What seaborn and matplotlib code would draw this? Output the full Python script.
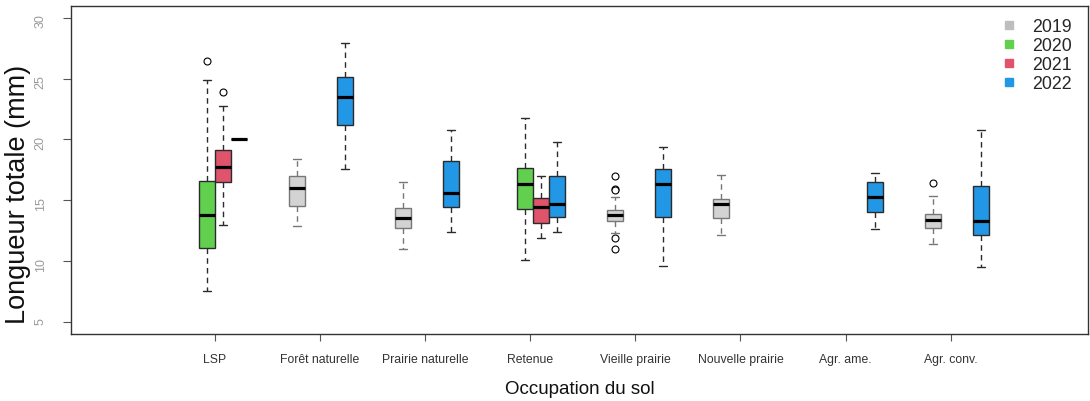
import numpy as np
import pandas as pd
import matplotlib.pyplot as plt
from matplotlib.lines import Line2D
import seaborn as sns

CATEGORIES = ["LSP", "Forêt naturelle", "Prairie naturelle", "Retenue",
              "Vieille prairie", "Nouvelle prairie", "Agr. ame.", "Agr. conv."]
YEARS = ["2019", "2020", "2021", "2022"]
YEAR_COLORS = {"2019": "#D3D3D3", "2020": "#61D04F", "2021": "#DF536B", "2022": "#2297E6"}
LEGEND_COLORS = ["#BEBEBE", "#61D04F", "#DF536B", "#2297E6"]

box_site = ["LSP", "LSP", "LSP", "Forêt naturelle", "Forêt naturelle",
            "Prairie naturelle", "Prairie naturelle", "Retenue", "Retenue", "Retenue",
            "Vieille prairie", "Vieille prairie", "Nouvelle prairie", "Agr. ame.",
            "Agr. conv.", "Agr. conv."]
box_year = ["2020", "2021", "2022", "2019", "2022", "2019", "2022", "2020", "2021", "2022",
            "2019", "2022", "2019", "2022", "2019", "2022"]
whisk_lo = [7.5, 13.0, 20.0, 12.9, 17.6, 11.0, 12.4, 10.1, 11.9, 12.4, 12.3, 9.6, 12.1, 12.6, 11.4, 9.5]
q1 = [11.05, 16.5, 20.0, 14.5, 21.2, 12.7, 14.4, 14.3, 13.1, 13.6, 13.3, 13.65, 13.55, 14.05, 12.7, 12.1]
median = [13.8, 17.75, 20.0, 16.0, 23.45, 13.5, 15.55, 16.35, 14.45, 14.7, 13.8, 16.3, 14.7, 15.25, 13.4, 13.3]
q3 = [16.6, 19.15, 20.0, 17.0, 25.1, 14.35, 18.2, 17.65, 15.2, 17.0, 14.22, 17.55, 15.1, 16.5, 13.9, 16.15]
whisk_hi = [24.85, 22.7, 20.0, 18.35, 27.9, 16.5, 20.75, 21.75, 17.0, 19.8, 15.25, 19.35, 17.1, 17.25, 15.35, 20.8]
outliers = [[26.4], [23.9], [], [], [], [], [], [], [], [],
            [17.0, 15.9, 15.8, 11.85, 10.95], [], [], [], [16.4], []]


def box_sample(lo, a, m, b, hi, out):
    # observations whose quartiles / whiskers give back the summary exactly
    low_out = [v for v in out if v < m]
    high_out = [v for v in out if v > m]
    k = max(len(low_out), len(high_out)) + 1
    below = low_out + [lo] * (k - len(low_out))
    above = [hi] * (k - len(high_out)) + high_out
    return below + [a] * k + [m] + [b] * k + above


rows = []
for site, year, lo, a, m, b, hi, out in zip(box_site, box_year, whisk_lo, q1, median,
                                            q3, whisk_hi, outliers):
    for v in box_sample(lo, a, m, b, hi, out):
        rows.append({"site": site, "year": year, "length": v})
df = pd.DataFrame(rows)

sns.set_theme(style="ticks")
plt.rcParams["font.family"] = ["Liberation Sans", "DejaVu Sans"]

fig = plt.figure(figsize=(10.9, 4.02), dpi=100)
ax = fig.add_axes([71 / 1090, 67 / 402, 1017 / 1090, 328.5 / 402])

common = dict(
    x="site", y="length", hue="year", order=CATEGORIES, hue_order=YEARS,
    palette=YEAR_COLORS, saturation=1, dodge=True, width=0.604, gap=0, whis=1.5,
    legend=False, ax=ax, linewidth=1,
    medianprops=dict(color="black", linewidth=2.3),
    whiskerprops=dict(linestyle=(0, (4, 3))),
    flierprops=dict(marker="o", markersize=5, markerfacecolor="white",
                    markeredgecolor="black", markeredgewidth=0.8),
)
# 2019 boxes have grey outlines in the original, the other years dark ones
sns.boxplot(data=df[df["year"] == "2019"], linecolor="#777777", **common)
sns.boxplot(data=df[df["year"] != "2019"], linecolor="#2B2B2B", **common)

ax.set_xlim(-1.359, 8.24)
ax.set_ylim(4, 31)
ax.set_xticks(np.arange(len(CATEGORIES)) * 0.992, CATEGORIES)
ax.set_yticks([5, 10, 15, 20, 25, 30], ["5", "10", "15", "20", "25", "30"])
ax.tick_params(axis="x", labelsize=8.8, labelcolor="#333333", length=5, width=0.8,
               color="#555555", pad=8.5)
ax.tick_params(axis="y", labelrotation=90, labelsize=9, labelcolor="#9A9A9A",
               length=5.5, width=0.8, color="#555555", pad=12)
for sp in ax.spines.values():
    sp.set_color("#333333")
    sp.set_linewidth(1)

ax.set_xlabel("Occupation du sol", fontsize=13.5, color="#111111", labelpad=11)
ax.set_ylabel("Longueur totale (mm)", fontsize=19.5, color="#111111")
ax.yaxis.set_label_coords(-0.0395, 0.429)

handles = [Line2D([], [], marker="s", linestyle="none", markersize=6,
                  color=c, markeredgecolor=c) for c in LEGEND_COLORS]
ax.legend(handles, YEARS, loc="upper right", bbox_to_anchor=(1.0, 1.011), frameon=False,
          fontsize=12.8, handlelength=1.0, handletextpad=0.8, labelspacing=0.12,
          borderaxespad=0.5)

fig.savefig("out.png", dpi=100)
